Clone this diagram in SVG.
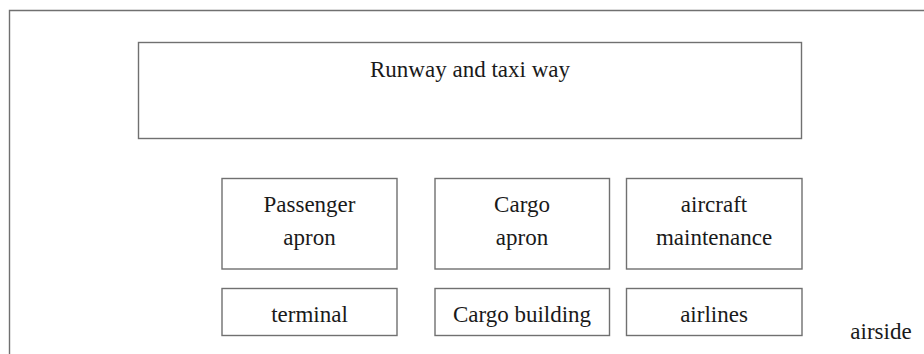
<svg xmlns="http://www.w3.org/2000/svg" width="924" height="354" viewBox="0 0 924 354">
<style>
.box{fill:#fff;stroke:#707070;stroke-width:1.4}
.t{font-family:"Liberation Serif","Times New Roman",serif;font-size:23px;fill:#1a1a1a;text-anchor:middle}
</style>
<rect width="924" height="354" fill="#fff"/>
<g id="frame"><path d="M9.5,354 V10.5 H924" fill="none" stroke="#707070" stroke-width="1.4"/></g>
<g id="runway"><rect class="box" x="138.5" y="42.5" width="663" height="96"/><text class="t" x="470" y="77">Runway and taxi way</text></g>
<g id="passenger-apron"><rect class="box" x="222" y="178.5" width="175" height="90.5"/><text class="t" x="309.5" y="212">Passenger</text><text class="t" x="309.5" y="245">apron</text></g>
<g id="cargo-apron"><rect class="box" x="435" y="178.5" width="174.5" height="90.5"/><text class="t" x="522" y="212">Cargo</text><text class="t" x="522" y="245">apron</text></g>
<g id="aircraft-maintenance"><rect class="box" x="626.5" y="178.5" width="175.5" height="90.5"/><text class="t" x="714" y="212">aircraft</text><text class="t" x="714" y="245">maintenance</text></g>
<g id="terminal"><rect class="box" x="222" y="288.5" width="175" height="47"/><text class="t" x="309.5" y="322">terminal</text></g>
<g id="cargo-building"><rect class="box" x="435" y="288.5" width="174.5" height="47"/><text class="t" x="522" y="322">Cargo building</text></g>
<g id="airlines"><rect class="box" x="626.5" y="288.5" width="175.5" height="47"/><text class="t" x="714" y="322">airlines</text></g>
<g id="airside-label"><text class="t" x="881" y="339">airside</text></g>
<g id="connectors"></g>
</svg>
